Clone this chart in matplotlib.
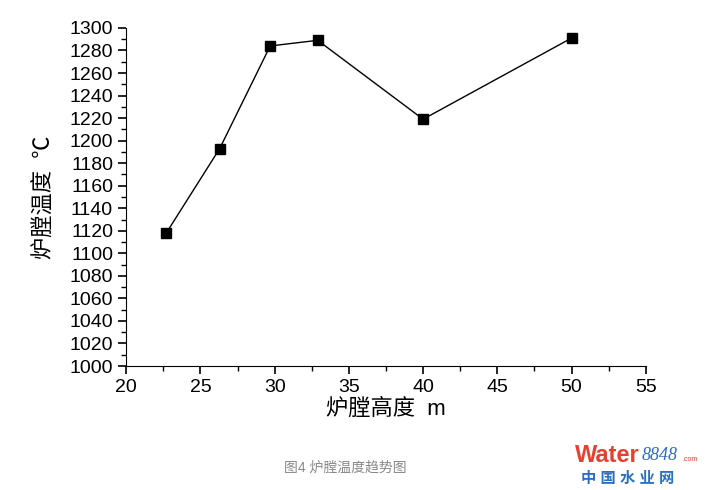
import numpy as np
import matplotlib.pyplot as plt
from matplotlib.ticker import MultipleLocator

plt.rcParams['font.family'] = ['Liberation Sans', 'Noto Sans CJK SC', 'DejaVu Sans']

height_m = [22.7, 26.3, 29.7, 32.9, 40.0, 50.0]
temp_c = [1118, 1193, 1284, 1289, 1219, 1291]

fig = plt.figure(figsize=(7.05, 4.9), dpi=100)
ax = fig.add_axes([0.179, 0.253, 0.737, 0.690])

ax.plot(height_m, temp_c, color='black', linewidth=1.0, marker='s',
        markersize=7, markerfacecolor='black')

ax.set_xlim(20, 55)
ax.set_ylim(1000, 1300)
ax.xaxis.set_major_locator(MultipleLocator(5))
ax.xaxis.set_minor_locator(MultipleLocator(2.5))
ax.yaxis.set_major_locator(MultipleLocator(20))
ax.yaxis.set_minor_locator(MultipleLocator(10))
for s in ['top', 'right']:
    ax.spines[s].set_visible(False)
ax.tick_params(which='major', direction='out', length=6, width=1.2, labelsize=14, colors='black')
ax.tick_params(which='minor', direction='out', length=3.5, width=1)

ax.set_xlabel('炉膛高度  m', fontsize=16, labelpad=2)
ax.set_ylabel('炉膛温度  ℃', fontsize=16, labelpad=10)

fig.text(0.49, 0.045, '图4 炉膛温度趋势图', ha='center', va='center', fontsize=10, color='#888888')

# watermark
fig.text(0.815, 0.07, 'Water', ha='left', va='center', fontsize=17, fontweight='bold', color='#e8402f')
fig.text(0.91, 0.07, '8848', ha='left', va='center', fontsize=13, style='italic',
         family=['Liberation Serif'], color='#2a6fc0')
fig.text(0.968, 0.062, '.com', ha='left', va='center', fontsize=5, color='#e8402f')
fig.text(0.89, 0.022, '中 国 水 业 网', ha='center', va='center', fontsize=11, fontweight='bold', color='#2a6fc0')

fig.savefig('out.png', dpi=100)
